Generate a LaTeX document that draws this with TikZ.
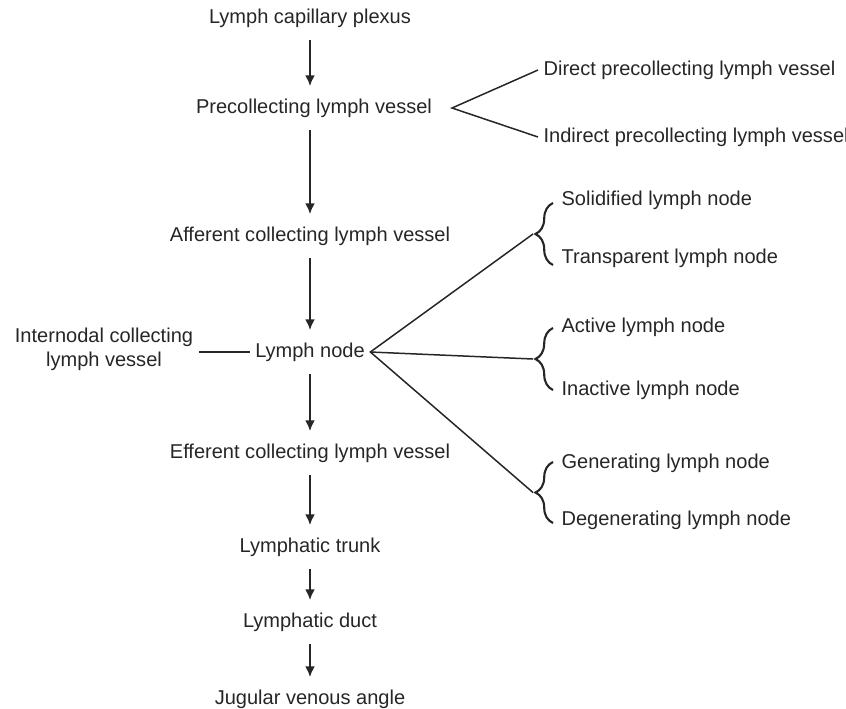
\documentclass[tikz,border=0pt]{standalone}
\usepackage{fontspec}
\setmainfont{Liberation Sans}
\usetikzlibrary{arrows.meta,decorations.pathreplacing}

\begin{document}
\begin{tikzpicture}[x=0.02cm,y=-0.02cm,>={Latex[length=6pt,width=5.5pt]},
  every node/.style={text=black!85,font=\fontsize{11.4}{13.5}\selectfont,inner sep=3pt},
  flow/.style={->,line width=0.9pt,black!85,shorten <=4pt,shorten >=4pt},
  link/.style={line width=0.85pt,black!85},
  bracket/.style={decorate,decoration={brace,amplitude=10pt},line width=1.2pt,black!85}]
\useasboundingbox (0,0) rectangle (846,708);

% main chain
\node (lcp) at (310,18) {Lymph capillary plexus};
\node (pre) at (314,108) {Precollecting lymph vessel};
\node (aff) at (310,236) {Afferent collecting lymph vessel};
\node (ln) at (310,352) {Lymph node};
\node (eff) at (310,453) {Efferent collecting lymph vessel};
\node (trunk) at (310,547) {Lymphatic trunk};
\node (duct) at (310,622) {Lymphatic duct};
\node (jug) at (310,699) {Jugular venous angle};

\draw[flow] (lcp) -- (lcp |- pre.north);
\draw[flow] (pre.south -| aff) -- (aff);
\draw[flow] (aff) -- (ln);
\draw[flow] (ln) -- (eff);
\draw[flow] (eff) -- (trunk);
\draw[flow] (trunk) -- (duct);
\draw[flow] (duct) -- (jug);

% precollecting types
\coordinate (prefork) at (452,108);
\node[anchor=west] (dir) at (538,70) {Direct precollecting lymph vessel};
\node[anchor=west] (ind) at (538,137) {Indirect precollecting lymph vessel};
\draw[link] (dir.west) -- (prefork) -- (ind.west);

% internodal vessel
\node[align=center] (inter) at (104,349) {Internodal collecting\\lymph vessel};
\draw[link] (ln.west) -- (ln.west -| inter.east);

% lymph node types
\node[anchor=west] (sol) at (556,200) {Solidified lymph node};
\node[anchor=west] (tra) at (556,258) {Transparent lymph node};
\node[anchor=west] (act) at (556,327) {Active lymph node};
\node[anchor=west] (ina) at (556,390) {Inactive lymph node};
\node[anchor=west] (gen) at (556,463) {Generating lymph node};
\node[anchor=west] (deg) at (556,520) {Degenerating lymph node};

\draw[bracket] (553,265) -- (553,203);
\draw[bracket] (553,390) -- (553,328);
\draw[bracket] (553,523) -- (553,462);
\coordinate (b1) at (533,234);
\coordinate (b2) at (533,359);
\coordinate (b3) at (533,492.5);

\draw[link] (b1) -- (ln.east) -- (b3);
\draw[link] (ln.east) -- (b2);

\end{tikzpicture}
\end{document}
